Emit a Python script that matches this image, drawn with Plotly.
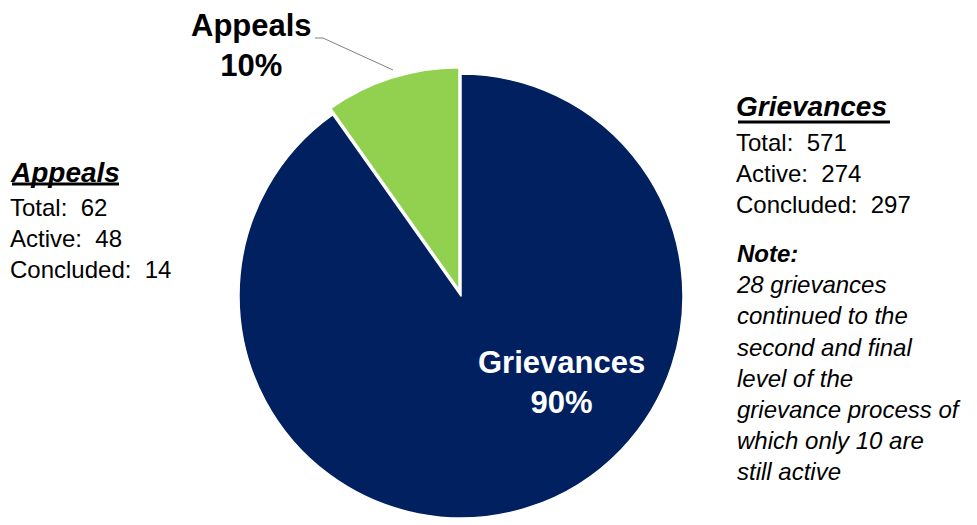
import plotly.graph_objects as go

# Case counts by type (drawn clockwise from 12 o'clock)
categories = ["Grievances", "Appeals"]
values = [571, 62]
colors = ["#002060", "#92D050"]

appeals_total, appeals_active, appeals_concluded = 62, 48, 14
griev_total, griev_active, griev_concluded = 571, 274, 297
note_lines = [
    "28 grievances",
    "continued to the",
    "second and final",
    "level of the",
    "grievance process of",
    "which only 10 are",
    "still active",
]

W, H = 977, 525
FONT = "Arial, 'Liberation Sans', sans-serif"


def px(x):
    return x / W


def py(y):
    return 1 - y / H


total = sum(values)
pct = [round(100 * v / total) for v in values]

# Pie geometry (pixels)
cx, cy, r, pull = 461, 296, 222, 0.03
half = r * (1 + pull)

fig = go.Figure(
    go.Pie(
        labels=categories,
        values=values,
        sort=False,
        direction="clockwise",
        rotation=0,
        pull=[0, pull],
        marker=dict(colors=colors, line=dict(color="white", width=1.5)),
        textinfo="none",
        hoverinfo="label+value+percent",
        showlegend=False,
        domain=dict(
            x=[px(cx - half), px(cx + half)],
            y=[py(cy + half), py(cy - half)],
        ),
    )
)


def note(x, y, text, size, color="black", xanchor="left", align="left"):
    return dict(x=px(x), y=py(y), xanchor=xanchor, yanchor="middle", align=align,
                text=text, xref="paper", yref="paper", showarrow=False,
                font=dict(family=FONT, size=size, color=color))


annotations = [
    # slice labels
    note(561, 382, f"<b>{categories[0]}<br>{pct[0]}%</b>", 31, "white", "center", "center"),
    note(251, 45, f"<b>{categories[1]}<br>{pct[1]}%</b>", 31, "black", "center", "center"),
    # appeals summary
    note(8, 172, f"<b><i>{categories[1]}</i></b>", 28),
    note(8, 238, (f"Total:  {appeals_total}<br>"
                  f"Active:  {appeals_active}<br>"
                  f"Concluded:  {appeals_concluded}"), 24),
    # grievances summary
    note(734, 106, f"<b><i>{categories[0]}</i></b>", 28),
    note(734, 173, (f"Total:  {griev_total}<br>"
                    f"Active:  {griev_active}<br>"
                    f"Concluded:  {griev_concluded}"), 24),
    note(734, 362, "<b><i>Note:</i></b><br>" + "<br>".join(f"<i>{t}</i>" for t in note_lines), 24),
]

# leader line from the outside label to the appeals slice
leader = f"M {px(315)},{py(38)} L {px(323)},{py(38)} L {px(393)},{py(70)}"

shapes = [
    dict(type="path", path=leader, xref="paper", yref="paper",
         line=dict(color="#808080", width=1)),
    # heading underlines
    dict(type="line", xref="paper", yref="paper",
         x0=px(12), x1=px(119), y0=py(184), y1=py(184),
         line=dict(color="black", width=3)),
    dict(type="line", xref="paper", yref="paper",
         x0=px(738), x1=px(890), y0=py(122), y1=py(122),
         line=dict(color="black", width=3)),
]

fig.update_layout(
    width=W,
    height=H,
    margin=dict(l=0, r=0, t=0, b=0),
    paper_bgcolor="white",
    plot_bgcolor="white",
    annotations=annotations,
    shapes=shapes,
)

fig.write_html("out.html")
